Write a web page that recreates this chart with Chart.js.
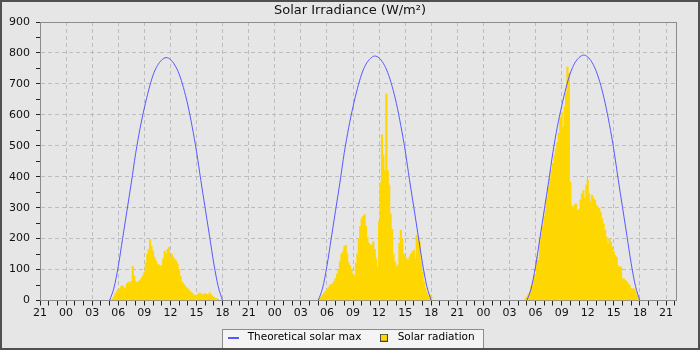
<!DOCTYPE html>
<html>
<head>
<meta charset="utf-8">
<script src="https://cdn.jsdelivr.net/npm/chart.js@4/dist/chart.umd.min.js"></script>
<style>
  html, body { margin: 0; padding: 0; background: #e6e6e6; }
</style>
</head>
<body>
<canvas id="chart" width="700" height="350"></canvas>
<script>
// x axis runs in hours counted from 21:00 of the day before day 1
const startHour = 21;
const hourSpan = 73.15;

// theoretical clear-sky maximum, read every half hour
const maxTimes = ['05:00', '05:30', '06:00', '06:30', '07:00', '07:30', '08:00', '08:30', '09:00',
  '09:30', '10:00', '10:30', '11:00', '11:30', '12:00', '12:30', '13:00', '13:30', '14:00',
  '14:30', '15:00', '15:30', '16:00', '16:30', '17:00', '17:30', '18:00'];
const maxDay1 = [0, 40, 110, 200, 290, 380, 475, 555, 622, 680, 728, 759, 777, 785, 779, 761, 732, 688, 632, 562, 482, 388, 298, 208, 118, 45, 0];
const maxDay2 = [0, 40, 111, 201, 292, 382, 478, 558, 626, 684, 732, 764, 782, 790, 784, 766, 736, 692, 636, 565, 485, 390, 300, 209, 119, 45, 0];
const maxDay3 = [0, 40, 111, 202, 293, 384, 480, 561, 628, 687, 735, 767, 785, 793, 787, 769, 739, 695, 638, 568, 487, 392, 301, 210, 119, 45, 0];

// measured radiation, one value every 10 minutes from the start time
const radStep = 10;
const radDay1Start = '05:20';
const radDay1 = [5, 12, 22, 30,
  35, 38, 45, 48, 42, 40,
  55, 60, 55, 62, 110, 80,
  62, 58, 60, 65, 72, 80,
  90, 120, 150, 165, 197, 175,
  160, 140, 128, 118, 115, 112,
  112, 135, 160, 152, 165, 172,
  140, 150, 140, 132, 128, 118,
  100, 78, 60, 55, 48, 42,
  38, 32, 28, 24, 18, 16,
  15, 20, 25, 22, 18, 20,
  22, 20, 18, 25, 20, 14,
  10, 8, 6, 4];
const radDay2Start = '05:00';
const radDay2 = [2, 8, 12, 18, 24, 30,
  35, 42, 48, 52, 55, 62,
  72, 85, 100, 125, 150, 158,
  175, 178, 150, 122, 112, 100,
  85, 80, 120, 150, 200, 240,
  265, 272, 278, 240, 205, 185,
  180, 178, 190, 165, 135, 108,
  255, 380, 535, 470, 420, 668,
  420, 373, 280, 230, 150, 125,
  110, 115, 185, 227, 200, 150,
  140, 135, 130, 140, 150, 157,
  162, 135, 211, 200, 190, 124,
  92, 60, 40, 25, 15, 20,
  12];
const radDay3Start = '04:50';
const radDay3 = [5,
  12, 20, 28, 45, 60, 78,
  82, 140, 130, 189, 216, 240,
  270, 292, 335, 367, 394, 421,
  443, 470, 490, 510, 540, 590,
  610, 560, 626, 670, 755, 735,
  383, 305, 300, 310, 312, 290,
  295, 325, 345, 355, 330, 373,
  388, 345, 319, 340, 330, 324,
  308, 302, 297, 286, 265, 248,
  227, 205, 183, 200, 189, 173,
  157, 146, 140, 113, 108, 108,
  70, 70, 65, 60, 54, 49,
  38, 38, 38, 30, 16, 14];

function hoursFrom(day, hhmm) {
  const [h, m] = hhmm.split(':').map(Number);
  return day * 24 + h + m / 60 - startHour;
}

function radPoints(day, start, values) {
  const t0 = hoursFrom(day, start);
  return values.map((v, i) => ({ x: t0 + i * radStep / 60, y: v }));
}

function maxPoints(day, values) {
  return values.map((v, i) => ({ x: hoursFrom(day, maxTimes[i]), y: v }));
}

const radiation = [
  ...radPoints(1, radDay1Start, radDay1),
  ...radPoints(2, radDay2Start, radDay2),
  ...radPoints(3, radDay3Start, radDay3)
];
const solarMax = [
  ...maxPoints(1, maxDay1), { x: hoursFrom(1, '21:00'), y: null },
  ...maxPoints(2, maxDay2), { x: hoursFrom(2, '21:00'), y: null },
  ...maxPoints(3, maxDay3)
];

// little legend markers
function makeMark(w, h, draw) {
  const c = document.createElement('canvas');
  c.width = w; c.height = h;
  draw(c.getContext('2d'));
  return c;
}
const lineMark = makeMark(11, 2, g => { g.fillStyle = '#5858ff'; g.fillRect(0, 0, 11, 2); });
const boxMark = makeMark(8, 8, g => {
  g.fillStyle = '#ffd700'; g.fillRect(0, 0, 8, 8);
  g.strokeStyle = '#444'; g.lineWidth = 1; g.strokeRect(0.5, 0.5, 7, 7);
});

const frame = {
  id: 'frame',
  beforeDraw(chart) {
    const g = chart.ctx;
    g.save();
    g.fillStyle = '#e6e6e6';
    g.fillRect(0, 0, chart.width, chart.height);
    const boxes = chart.legend.legendHitBoxes;
    if (boxes && boxes.length) {
      const l = boxes[0].left - 3;
      const r = boxes[boxes.length - 1].left + boxes[boxes.length - 1].width + 9;
      const t = boxes[0].top - 4;
      const b = boxes[0].top + boxes[0].height + 4;
      g.fillStyle = '#f4f4f4';
      g.fillRect(Math.round(l) + 0.5, Math.round(t) + 0.5, Math.round(r - l), Math.round(b - t));
      g.strokeStyle = '#8c8c8c';
      g.lineWidth = 1;
      g.strokeRect(Math.round(l) + 0.5, Math.round(t) + 0.5, Math.round(r - l), Math.round(b - t));
    }
    g.restore();
  },
  afterDraw(chart) {
    const g = chart.ctx;
    const a = chart.chartArea;
    g.save();
    g.strokeStyle = '#8c8c8c';
    g.lineWidth = 1;
    g.beginPath();
    g.moveTo(Math.round(a.left), Math.round(a.top) + 0.5);
    g.lineTo(Math.round(a.right), Math.round(a.top) + 0.5);
    g.stroke();
    g.strokeStyle = '#505050';
    g.lineWidth = 2;
    g.strokeRect(1, 1, chart.width - 2, chart.height - 2);
    g.restore();
  }
};

Chart.defaults.font.family = 'DejaVu Sans';
Chart.defaults.color = '#111';

const ctx = document.getElementById('chart').getContext('2d');
new Chart(ctx, {
  type: 'bar',
  data: {
    datasets: [{
      type: 'line',
      label: 'Theoretical solar max',
      data: solarMax,
      borderColor: '#5858ff',
      borderWidth: 1,
      pointRadius: 0,
      cubicInterpolationMode: 'monotone',
      spanGaps: false
    }, {
      type: 'bar',
      label: 'Solar radiation',
      data: radiation,
      backgroundColor: '#ffd700',
      borderWidth: 0,
      barPercentage: 1,
      categoryPercentage: 1,
      grouped: false
    }]
  },
  options: {
    responsive: false,
    animation: false,
    events: [],
    layout: { padding: { left: 0, right: 0, top: 0, bottom: -3 } },
    plugins: {
      title: {
        display: true,
        text: 'Solar Irradiance (W/m²)',
        font: { size: 13, weight: 'normal' },
        color: '#111',
        padding: { top: 3, bottom: 3.4 }
      },
      legend: {
        position: 'bottom',
        labels: {
          usePointStyle: true,
          pointStyleWidth: 17,
          boxHeight: 8,
          padding: 14,
          color: '#111',
          font: { size: 10.5 },
          generateLabels: chart => chart.data.datasets.map((ds, i) => ({
            text: ds.label,
            pointStyle: i === 0 ? lineMark : boxMark,
            fillStyle: 'transparent',
            strokeStyle: 'transparent',
            lineWidth: 0,
            hidden: false,
            datasetIndex: i
          }))
        }
      },
      tooltip: { enabled: false }
    },
    scales: {
      x: {
        type: 'linear',
        min: 0,
        max: hourSpan,
        offset: false,
        afterFit: s => { s.height = 18; },
        afterBuildTicks: s => {
          const ticks = [];
          for (let v = 0; v <= Math.floor(hourSpan); v++) ticks.push({ value: v });
          s.ticks = ticks;
        },
        ticks: {
          autoSkip: false,
          maxRotation: 0,
          padding: 1,
          color: '#111',
          font: { size: 11 },
          callback: v => v % 3 === 0 ? String((startHour + v) % 24).padStart(2, '0') : ''
        },
        grid: {
          offset: false,
          color: c => (c.tick && c.tick.value % 3 === 0 && c.tick.value > 0) ? '#bdbdbd' : 'rgba(0,0,0,0)',
          tickColor: '#222',
          tickLength: 5
        },
        border: { color: '#8c8c8c', dash: [4, 3] }
      },
      y: {
        min: 0,
        max: 900,
        afterFit: s => { s.width = 40; },
        ticks: {
          stepSize: 50,
          autoSkip: false,
          padding: 6,
          color: '#111',
          font: { size: 11 },
          callback: v => v % 100 === 0 ? v : ''
        },
        grid: {
          color: c => (c.tick && c.tick.value % 100 === 0 && c.tick.value > 0 && c.tick.value < 900) ? '#bdbdbd' : 'rgba(0,0,0,0)',
          tickColor: '#222',
          tickLength: 4
        },
        border: { color: '#8c8c8c', dash: [4, 3] }
      },
      y2: {
        position: 'right',
        afterFit: s => { s.width = 24; },
        ticks: { display: false },
        grid: { drawOnChartArea: false, drawTicks: false },
        border: { color: '#8c8c8c' }
      }
    }
  },
  plugins: [frame]
});
</script>
</body>
</html>
